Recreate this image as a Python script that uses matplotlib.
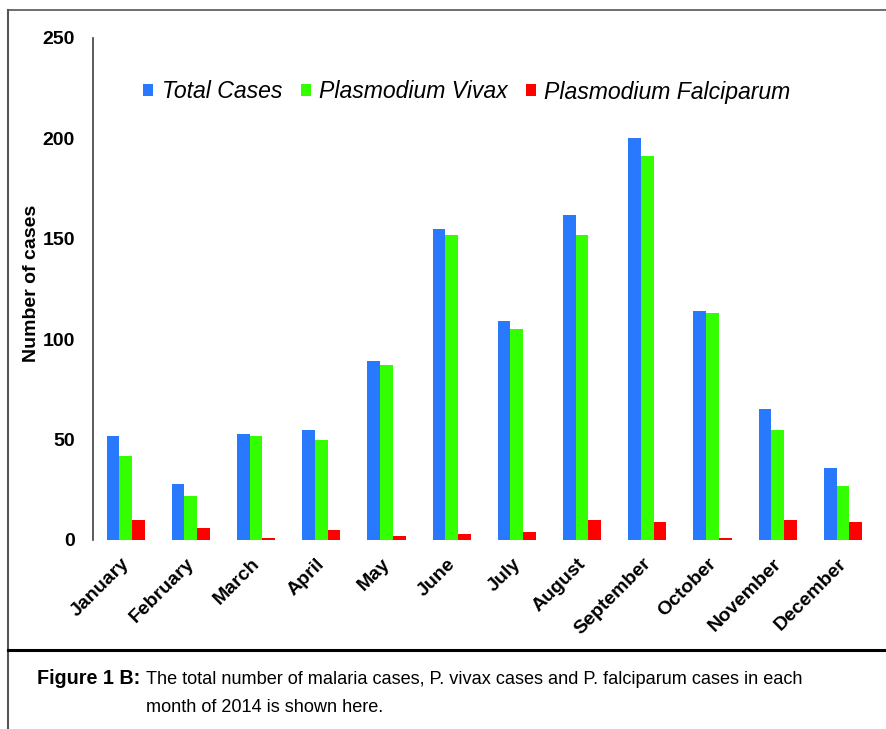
import matplotlib
matplotlib.use("Agg")
import matplotlib.pyplot as plt
from matplotlib.lines import Line2D
from matplotlib.transforms import ScaledTranslation
import numpy as np

months = ["January", "February", "March", "April", "May", "June", "July",
          "August", "September", "October", "November", "December"]
total_cases = [52, 28, 53, 55, 89, 155, 109, 162, 200, 114, 65, 36]
vivax_cases = [42, 22, 52, 50, 87, 152, 105, 152, 191, 113, 55, 27]
falciparum_cases = [10, 6, 1, 5, 2, 3, 4, 10, 9, 1, 10, 9]
series_names = ["Total Cases", "Plasmodium Vivax", "Plasmodium Falciparum"]
y_ticks = [0, 50, 100, 150, 200, 250]

colors = ["#2979FF", "#33FF00", "#FF0000"]
FAM = ["Liberation Sans", "DejaVu Sans"]

W, H = 887, 729
fig = plt.figure(figsize=(W / 100, H / 100), dpi=100)
fig.patch.set_facecolor("white")

ax = fig.add_axes([93 / W, 1 - 540 / H, (875.5 - 93) / W, (540 - 38) / H])
x = np.arange(len(months))
bw = 0.195
for i, (vals, c, name) in enumerate(zip([total_cases, vivax_cases, falciparum_cases], colors, series_names)):
    ax.bar(x + (i - 1) * bw, vals, width=bw, color=c, label=name, linewidth=0)

ax.set_xlim(-0.5, len(months) - 0.5)
ax.set_ylim(0, 250)
ax.set_yticks(y_ticks)
ax.set_yticklabels([str(v) for v in y_ticks], fontsize=14, fontweight="bold", family=FAM)
ax.tick_params(axis="y", length=0, pad=13)
ax.set_xticks(x)
ax.set_xticklabels(months, rotation=45, ha="right", rotation_mode="anchor",
                   fontsize=14, fontweight="bold", family=FAM)
ax.tick_params(axis="x", length=0, pad=11)
shift = ScaledTranslation(-5 / 100, 0, fig.dpi_scale_trans)
for lab in ax.get_xticklabels():
    lab.set_transform(lab.get_transform() + shift)
for s in ["top", "right", "bottom"]:
    ax.spines[s].set_visible(False)
ax.spines["left"].set_color("#404040")
ax.spines["left"].set_linewidth(1.2)

fig.text(32 / W, 1 - 283 / H, "Number of cases", rotation=90, ha="center", va="center",
         fontsize=14, fontweight="bold", family=FAM)

leg = ax.legend(loc="center", bbox_to_anchor=(467 / W, 1 - 92 / H), bbox_transform=fig.transFigure,
                ncol=3, frameon=False, handlelength=0.44, handleheight=0.44, handletextpad=0.36,
                columnspacing=0.8, prop={"family": FAM, "style": "italic", "size": 16.6})

# frame lines
fig.add_artist(Line2D([8 / W, 1], [1 - 10 / H, 1 - 10 / H], transform=fig.transFigure,
                      color="#555555", lw=1.2))
fig.add_artist(Line2D([8.5 / W, 8.5 / W], [0, 1 - 10 / H], transform=fig.transFigure,
                      color="#555555", lw=1.5))
fig.add_artist(Line2D([8 / W, 1], [1 - 650 / H, 1 - 650 / H], transform=fig.transFigure,
                      color="black", lw=2.2))

# caption: fit sizes to the reference widths
renderer = fig.canvas.get_renderer()


def fitted_text(xpx, ypx, s, target_w, weight="normal", size=15):
    t = fig.text(xpx / W, 1 - ypx / H, s, ha="left", va="center", fontsize=size,
                 fontweight=weight, family=FAM)
    w = t.get_window_extent(renderer).width
    t.set_fontsize(size * target_w / w)
    return t


t0 = fitted_text(37, 679, "Figure 1 B:", 104, weight="bold")
t1 = fitted_text(146, 679,
                 "The total number of malaria cases, P. vivax cases and P. falciparum cases in each",
                 657)
t2 = fig.text(146 / W, 1 - 707 / H, "month of 2014 is shown here.", ha="left", va="center",
              fontsize=t1.get_fontsize(), family=FAM)

fig.savefig("out.png", dpi=100, facecolor="white")
